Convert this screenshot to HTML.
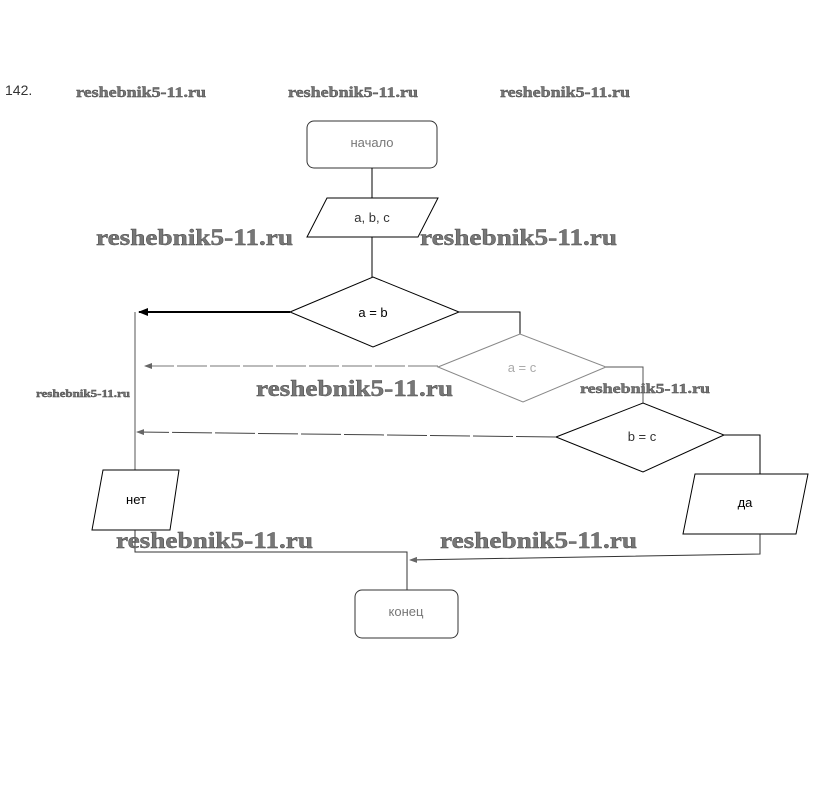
<!DOCTYPE html>
<html><head><meta charset="utf-8"><style>
body{margin:0;background:#fff;width:823px;height:784px;overflow:hidden}
.w{font-family:"Liberation Serif",serif;font-weight:bold;fill:#777;stroke:#444;stroke-width:0.4}
.t{font-family:"Liberation Sans",sans-serif;font-size:13px;text-anchor:middle}
</style></head><body>
<svg width="823" height="784" viewBox="0 0 823 784" xmlns="http://www.w3.org/2000/svg">
<defs>
<marker id="a" markerWidth="10" markerHeight="8" refX="9" refY="4" orient="auto" markerUnits="userSpaceOnUse"><path d="M0,0 L10,4 L0,8z" fill="#000"/></marker>
<marker id="g" markerWidth="8" markerHeight="6" refX="7" refY="3" orient="auto" markerUnits="userSpaceOnUse"><path d="M0,0 L8,3 L0,6z" fill="#666"/></marker>
</defs>
<text x="5" y="95" font-family="Liberation Sans,sans-serif" font-size="14" fill="#333">142.</text>
<g class="w" font-size="15">
<text x="76" y="97" textLength="130" lengthAdjust="spacingAndGlyphs">reshebnik5-11.ru</text>
<text x="288" y="97" textLength="130" lengthAdjust="spacingAndGlyphs">reshebnik5-11.ru</text>
<text x="500" y="97" textLength="130" lengthAdjust="spacingAndGlyphs">reshebnik5-11.ru</text>
</g>
<g fill="none" stroke="#000" stroke-width="1">
<rect x="307" y="121" width="130" height="47" rx="7" stroke="#333"/>
<line x1="372" y1="168" x2="372" y2="198"/>
<polygon points="327,198 438,198 418,237 307,237" fill="#fff"/>
<line x1="372" y1="237" x2="372" y2="277"/>
<polygon points="290,312 373,277 459,312 373,347" fill="#fff"/>
<line x1="290" y1="312" x2="139" y2="312" stroke-width="2" marker-end="url(#a)"/>
<polyline points="459,312 520,312 520,334"/>
<polygon points="438,367 520,334 606,367 523,402" stroke="#888"/>
<line x1="438" y1="366" x2="145" y2="366" stroke="#777" stroke-dasharray="30,3" marker-end="url(#g)"/>
<polyline points="606,367 643,367 643,403" stroke="#555"/>
<polygon points="556,437 643,403 724,435 643,472" fill="#fff"/>
<line x1="556" y1="437" x2="137" y2="432" stroke="#444" stroke-dasharray="40,3" marker-end="url(#g)"/>
<line x1="135" y1="312" x2="135" y2="470" stroke="#555"/>
<polygon points="103,470 179,470 170,530 92,530" fill="#fff"/>
<polyline points="724,435 760,435 760,474"/>
<polygon points="695,474 808,474 796,534 683,534" fill="#fff"/>
<polyline points="760,534 760,554 410,560" stroke="#333" marker-end="url(#g)"/>
<polyline points="135,530 135,552 407,552 407,590" stroke="#333"/>
<rect x="355" y="590" width="103" height="48" rx="7" stroke="#333"/>
</g>
<text class="t" x="372" y="147" fill="#777">начало</text>
<text class="t" x="372" y="222" fill="#333">a, b, c</text>
<text class="t" x="373" y="317">a = b</text>
<text class="t" x="522" y="372" fill="#aaa">a = c</text>
<text class="t" x="642" y="441" fill="#333">b = c</text>
<text class="t" x="136" y="504">нет</text>
<text class="t" x="745" y="507">да</text>
<text class="t" x="406" y="616" fill="#777">конец</text>
<g class="w" font-size="23">
<text x="96" y="245" textLength="197" lengthAdjust="spacingAndGlyphs">reshebnik5-11.ru</text>
<text x="420" y="245" textLength="197" lengthAdjust="spacingAndGlyphs">reshebnik5-11.ru</text>
<text x="256" y="396" textLength="197" lengthAdjust="spacingAndGlyphs">reshebnik5-11.ru</text>
<text x="116" y="548" textLength="197" lengthAdjust="spacingAndGlyphs">reshebnik5-11.ru</text>
<text x="440" y="548" textLength="197" lengthAdjust="spacingAndGlyphs">reshebnik5-11.ru</text>
</g>
<text class="w" x="36" y="397" font-size="10.5" textLength="94" lengthAdjust="spacingAndGlyphs">reshebnik5-11.ru</text>
<text class="w" x="580" y="393" font-size="14" textLength="130" lengthAdjust="spacingAndGlyphs">reshebnik5-11.ru</text>
</svg>
</body></html>
